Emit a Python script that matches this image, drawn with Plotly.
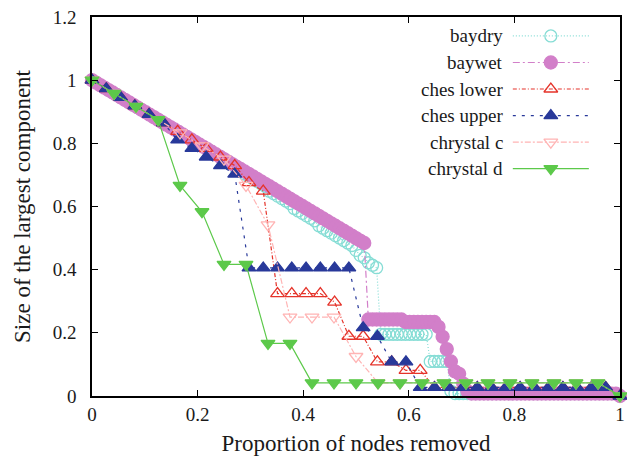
import plotly.graph_objects as go

# Largest connected component (in nodes) after removing k nodes, k = 0..N
BAYDRY = (list(range(128, 93, -1))
          + [92, 91, 90, 89, 88, 87, 86, 85]
          + [83, 82, 81, 80, 79, 78]
          + [76, 75, 74, 73, 72, 71]
          + [69, 68, 67, 66, 65, 64, 63, 62, 61]
          + [59, 57, 56, 54, 53, 52]
          + [25] * 12
          + [14] * 5
          + [2]
          + [1] * 40
          + [0])

BAYWET = (list(range(128, 61, -1))
          + [31] * 9
          + [30] * 8
          + [28, 24, 19, 14, 10, 9, 5, 2]
          + [1] * 36
          + [0])

CHES_LOWER = [37, 36, 35, 34, 33, 32, 31, 30, 29, 28, 27,
              25, 24, 12, 12, 12, 12, 11, 7, 7, 4, 4, 3, 3,
              1, 1, 1, 1, 1, 1, 1, 1, 1, 1, 1, 1, 1, 0]

CHES_UPPER = [37, 36, 35, 34, 33, 32, 30, 29, 28, 27, 26,
              15, 15, 15, 15, 15, 15, 15, 15, 8, 7, 4, 4,
              1, 1, 1, 1, 1, 1, 1, 1, 1, 1, 1, 1, 1, 1, 0]

CHRYSTAL_C = [24, 23, 22, 21, 20, 19, 18, 16, 13, 6, 6, 6, 3,
              1, 1, 1, 1, 1, 1, 1, 1, 1, 1, 1, 0]

CHRYSTAL_D = [24, 23, 22, 21, 16, 14, 10, 10, 4, 4,
              1, 1, 1, 1, 1, 1, 1, 1, 1, 1, 1, 1, 1, 1, 0]

NAMES = ["baydry", "baywet", "ches lower", "ches upper", "chrystal c", "chrystal d"]
SERIES = [BAYDRY, BAYWET, CHES_LOWER, CHES_UPPER, CHRYSTAL_C, CHRYSTAL_D]

X_TICKS = [0, 0.2, 0.4, 0.6, 0.8, 1]
X_TICKTEXT = ["0", "0.2", "0.4", "0.6", "0.8", "1"]
Y_TICKS = [0, 0.2, 0.4, 0.6, 0.8, 1, 1.2]
Y_TICKTEXT = ["0", "0.2", "0.4", "0.6", "0.8", "1", "1.2"]

STYLES = [
    dict(color="#86ddd5", symbol="circle-open", size=12, dash="1px,2px"),
    dict(color="#d27fc9", symbol="circle", size=13, dash="7px,3px,2px,3px"),
    dict(color="#e5332a", symbol="triangle-up-open", size=12, dash="4px,2px,1px,2px"),
    dict(color="#28399a", symbol="triangle-up", size=12, dash="3px,6px"),
    dict(color="#ffb4b4", symbol="triangle-down-open", size=12, dash="6px,2px,2px,2px"),
    dict(color="#5cc94a", symbol="triangle-down", size=12, dash="solid"),
]

FONT = "Liberation Serif"
TEXT_COLOR = "#1a1a1a"

fig = go.Figure()

for name, sizes, st in zip(NAMES, SERIES, STYLES):
    n = len(sizes) - 1
    xs = [k / n for k in range(n + 1)]
    ys = [s / n for s in sizes]
    fig.add_trace(go.Scatter(
        x=xs, y=ys, mode="lines+markers", name=name, showlegend=False,
        cliponaxis=False,
        line=dict(color=st["color"], width=1.2, dash=st["dash"]),
        marker=dict(symbol=st["symbol"], size=st["size"], color=st["color"],
                    line=dict(color=st["color"], width=1.3)),
    ))

# Key: label on the left, line sample with a marker on the right
row_y = [0.950, 0.880, 0.810, 0.740, 0.670, 0.600]
for name, st, ry in zip(NAMES, STYLES, row_y):
    fig.add_trace(go.Scatter(
        x=[0.797, 0.941], y=[ry, ry], mode="lines", xaxis="x2", yaxis="y2",
        showlegend=False, hoverinfo="skip",
        line=dict(color=st["color"], width=1.2, dash=st["dash"]),
    ))
    fig.add_trace(go.Scatter(
        x=[0.869], y=[ry], mode="markers", xaxis="x2", yaxis="y2",
        showlegend=False, hoverinfo="skip", cliponaxis=False,
        marker=dict(symbol=st["symbol"], size=st["size"], color=st["color"],
                    line=dict(color=st["color"], width=1.3)),
    ))
    fig.add_annotation(x=0.783, y=ry, xref="paper", yref="paper", text=name,
                       showarrow=False, xanchor="right", yanchor="middle",
                       font=dict(family=FONT, size=19, color=TEXT_COLOR))

axis_common = dict(showline=True, linecolor="black", linewidth=1.5, mirror="allticks",
                   ticks="inside", ticklen=6, tickwidth=1.2, tickcolor="black",
                   showgrid=False, zeroline=False, automargin=False,
                   tickfont=dict(family=FONT, size=19, color=TEXT_COLOR))

fig.update_layout(
    width=627, height=456,
    margin=dict(l=92, r=7, t=17, b=60),
    paper_bgcolor="white", plot_bgcolor="white",
    font=dict(family=FONT, color=TEXT_COLOR),
    xaxis=dict(range=[0, 1], tickvals=X_TICKS, ticktext=X_TICKTEXT,
               ticklabelstandoff=0,
               title=dict(text="Proportion of nodes removed", standoff=14,
                          font=dict(family=FONT, size=23, color=TEXT_COLOR)),
               **axis_common),
    yaxis=dict(range=[0, 1.2], tickvals=Y_TICKS, ticktext=Y_TICKTEXT,
               ticklabelstandoff=10,
               title=dict(text="Size of the largest component", standoff=16,
                          font=dict(family=FONT, size=23, color=TEXT_COLOR)),
               **axis_common),
    xaxis2=dict(overlaying="x", range=[0, 1], visible=False, fixedrange=True),
    yaxis2=dict(overlaying="y", range=[0, 1], visible=False, fixedrange=True),
)

fig.write_html("out.html")
